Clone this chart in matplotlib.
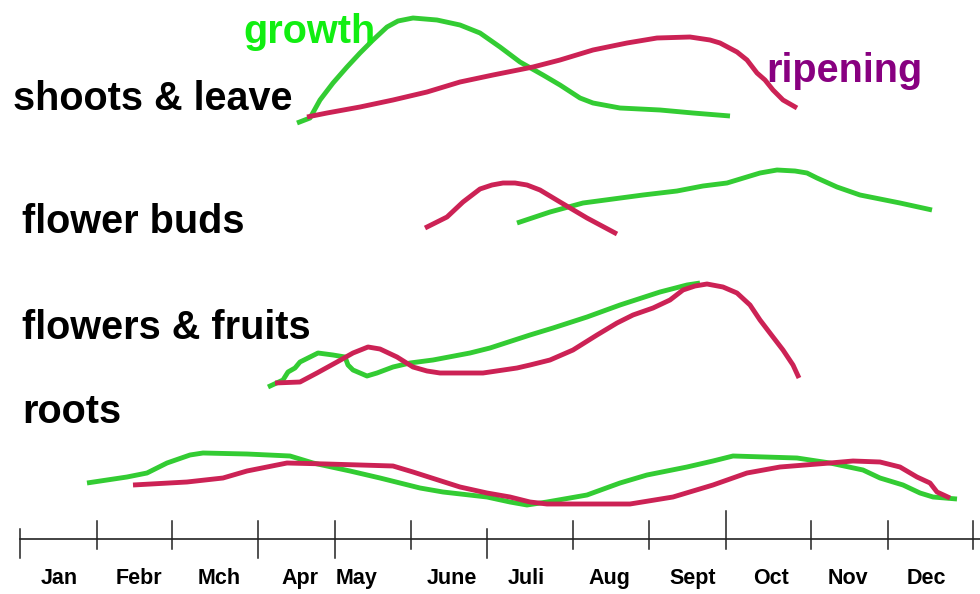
import matplotlib
matplotlib.use("Agg")
import matplotlib.pyplot as plt

plt.rcParams['font.family'] = ['Liberation Sans', 'DejaVu Sans']

# ---- axis: month boundaries (tick positions) and labels ----
tick_x = [20, 97, 172, 258, 335, 411, 487, 573, 649, 726, 811, 888, 973]
tick_top = [529, 521, 521, 521, 521, 521, 529, 521, 521, 511, 521, 521, 521]
tick_bot = [558, 549, 549, 558, 558, 549, 558, 549, 549, 549, 549, 549, 549]
months = ["Jan", "Febr", "Mch", "Apr", "May", "June", "Juli", "Aug", "Sept",
          "Oct", "Nov", "Dec"]
month_x = [59, 139, 219, 300, 357, 452, 526, 609, 693, 771, 848, 926]

# ---- row labels ----
row_labels = ["shoots & leave", "flower buds", "flowers & fruits", "roots"]
row_label_x = [13, 22, 22, 22]
row_label_y = [110, 233, 339, 423]

# ---- curves (growth = green, ripening = red) ----
shoots_growth_x = [297, 310, 320, 333, 347, 360, 373, 387, 398, 413, 437, 460, 480, 500,
                   520, 543, 560, 580, 593, 620, 660, 693, 730]
shoots_growth_y = [123, 118, 100, 83, 67, 53, 40, 27, 21, 18, 20, 25, 33, 47,
                   62, 75, 85, 98, 103, 108, 110, 113, 116]
shoots_ripen_x = [307, 327, 360, 393, 427, 460, 493, 533, 560, 593, 627, 657, 690, 710,
                  720, 737, 747, 757, 765, 773, 783, 797]
shoots_ripen_y = [117, 113, 107, 100, 92, 82, 75, 67, 60, 50, 43, 38, 37, 40,
                  43, 52, 60, 73, 80, 90, 100, 108]

buds_growth_x = [517, 550, 583, 643, 677, 703, 727, 760, 777, 795, 807, 817, 837, 860,
                 870, 900, 932]
buds_growth_y = [223, 212, 203, 195, 191, 186, 183, 173, 170, 171, 173, 178, 187, 195,
                 197, 203, 210]
buds_ripen_x = [425, 447, 463, 480, 492, 503, 515, 527, 540, 560, 587, 617]
buds_ripen_y = [228, 217, 202, 189, 185, 183, 183, 185, 190, 202, 218, 234]

fruits_growth_x = [268, 283, 288, 295, 300, 308, 318, 333, 345, 348, 353, 367, 377, 393,
                   410, 433, 470, 490, 530, 553, 587, 620, 660, 687, 700]
fruits_growth_y = [387, 380, 372, 368, 362, 358, 353, 355, 357, 365, 370, 376, 373, 367,
                   363, 360, 353, 348, 335, 328, 317, 305, 292, 285, 283]
fruits_ripen_x = [275, 300, 317, 337, 353, 368, 380, 397, 413, 427, 440, 483, 517, 530,
                  550, 573, 597, 617, 633, 653, 670, 683, 695, 707, 723, 737, 750, 760,
                  773, 783, 793, 799]
fruits_ripen_y = [383, 382, 373, 362, 353, 347, 349, 357, 367, 371, 373, 373, 368, 365,
                  360, 350, 335, 323, 315, 308, 300, 290, 286, 284, 287, 293, 305, 320,
                  337, 350, 365, 378]

roots_growth_x = [87, 127, 147, 167, 190, 203, 247, 290, 313, 350, 380, 420, 443, 487,
                  510, 527, 547, 587, 620, 647, 687, 713, 733, 797, 830, 863, 880,
                  903, 920, 933, 957]
roots_growth_y = [483, 477, 473, 463, 455, 453, 454, 456, 463, 471, 478, 488, 492, 497,
                  502, 505, 502, 495, 483, 475, 467, 461, 456, 458, 463, 470, 478,
                  485, 493, 497, 499]
roots_ripen_x = [133, 187, 223, 247, 287, 327, 393, 413, 460, 487, 510, 530, 547, 630,
                 673, 713, 747, 780, 830, 853, 880, 900, 917, 930, 937, 950]
roots_ripen_y = [485, 482, 478, 471, 463, 464, 466, 472, 487, 493, 497, 502, 504, 504,
                 497, 485, 473, 467, 463, 461, 462, 467, 477, 483, 492, 498]

GREEN = '#33cc33'
RED = '#cc2255'

fig = plt.figure(figsize=(9.8, 5.94), dpi=100)
ax = fig.add_axes([0, 0, 1, 1])
ax.set_xlim(0, 980)
ax.set_ylim(594, 0)
ax.axis('off')

curves = [
    (shoots_growth_x, shoots_growth_y, GREEN),
    (shoots_ripen_x, shoots_ripen_y, RED),
    (buds_growth_x, buds_growth_y, GREEN),
    (buds_ripen_x, buds_ripen_y, RED),
    (fruits_growth_x, fruits_growth_y, GREEN),
    (fruits_ripen_x, fruits_ripen_y, RED),
    (roots_growth_x, roots_growth_y, GREEN),
    (roots_ripen_x, roots_ripen_y, RED),
]
for xs, ys, c in curves:
    ax.plot(xs, ys, color=c, lw=3.5, solid_joinstyle='round', solid_capstyle='butt')

# axis line and ticks
ax.plot([tick_x[0], 980], [539, 539], color='#222222', lw=1.2)
for x, t, b in zip(tick_x, tick_top, tick_bot):
    ax.plot([x, x], [t, b], color='#222222', lw=1.1)
for m, x in zip(months, month_x):
    ax.text(x, 584, m, ha='center', va='baseline', fontsize=15.5, fontweight='bold',
            color='black')

for lab, x, y in zip(row_labels, row_label_x, row_label_y):
    ax.text(x, y, lab, ha='left', va='baseline', fontsize=28.5, fontweight='bold',
            color='black')

ax.text(243, 43, "growth", ha='left', va='baseline', fontsize=28.5, fontweight='bold',
        color='#11ee11')
ax.text(766, 82, "ripening", ha='left', va='baseline', fontsize=28.5, fontweight='bold',
        color='#880080')

fig.savefig("out.png", dpi=100)
